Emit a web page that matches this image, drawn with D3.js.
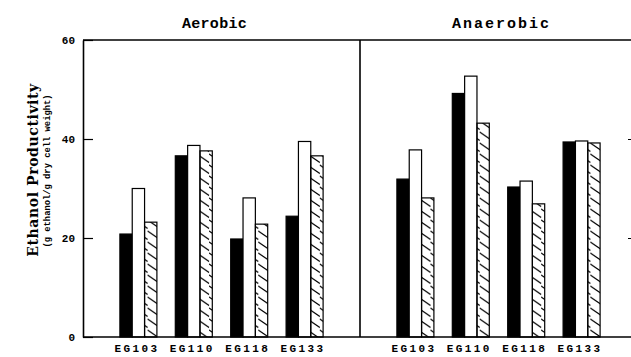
<!DOCTYPE html>
<html>
<head>
<meta charset="utf-8">
<script src="https://cdn.jsdelivr.net/npm/d3@7"></script>
<style>
  body { margin: 0; background: #fff; }
  text { font-family: "Liberation Mono", "DejaVu Sans Mono", monospace; font-weight: bold; fill: #000; }
  .serif { font-family: "DejaVu Serif", "Liberation Serif", serif; }
</style>
</head>
<body>
<svg width="631" height="357"></svg>
<script>
var strains = ["EG103", "EG110", "EG118", "EG133"];
var panels = ["Aerobic", "Anaerobic"];
var series = ["solid", "open", "hatched"];

var aerobicSolid = [20.8, 36.6, 19.8, 24.4];
var aerobicOpen = [30.0, 38.7, 28.1, 39.5];
var aerobicHatched = [23.2, 37.6, 22.8, 36.6];

var anaerobicSolid = [31.9, 49.2, 30.3, 39.4];
var anaerobicOpen = [37.8, 52.7, 31.5, 39.6];
var anaerobicHatched = [28.1, 43.2, 26.9, 39.2];

var yTicks = [0, 20, 40, 60];

var svg = d3.select("svg"),
    plotLeft = 83, plotTop = 40, plotBottom = 337, panelWidth = 277, plotRight = 631;

var y = d3.scaleLinear().domain([0, 60]).range([plotBottom, plotTop]);

var px = d3.scaleBand().domain(panels).range([plotLeft, plotLeft + 2 * panelWidth]);
var x = d3.scalePoint().domain(strains).range([0, panelWidth]).padding(1);
var xs = d3.scaleBand().domain(series).range([-18.5, 18.5]);

// hatch pattern
svg.append("defs").append("pattern")
    .attr("id", "hatch")
    .attr("patternUnits", "userSpaceOnUse")
    .attr("width", 12.3)
    .attr("height", 11)
  .append("path")
    .attr("d", "M-3,-2.1L15.3,10.6M-3,8.9L3,13.1")
    .attr("stroke", "#000")
    .attr("stroke-width", 1.1);

var data = [];
var values = {
  Aerobic: [aerobicSolid, aerobicOpen, aerobicHatched],
  Anaerobic: [anaerobicSolid, anaerobicOpen, anaerobicHatched]
};
panels.forEach(function(p) {
  series.forEach(function(s, si) {
    strains.forEach(function(st, i) {
      data.push({panel: p, series: s, strain: st, value: values[p][si][i]});
    });
  });
});

svg.selectAll(".bar")
  .data(data)
  .enter().append("rect")
    .attr("class", "bar")
    .attr("x", function(d) { return px(d.panel) + x(d.strain) + xs(d.series); })
    .attr("y", function(d) { return y(d.value); })
    .attr("width", xs.bandwidth())
    .attr("height", function(d) { return plotBottom - y(d.value); })
    .attr("fill", function(d) { return d.series == "solid" ? "#000" : d.series == "hatched" ? "url(#hatch)" : "#fff"; })
    .attr("stroke", "#000")
    .attr("stroke-width", 1.2);

// frame
svg.append("line").attr("x1", plotLeft).attr("x2", plotRight).attr("y1", plotTop).attr("y2", plotTop)
  .attr("stroke", "#000").attr("stroke-width", 1.6);
svg.append("line").attr("x1", plotLeft).attr("x2", plotRight).attr("y1", plotBottom).attr("y2", plotBottom)
  .attr("stroke", "#000").attr("stroke-width", 1.6);
svg.append("line").attr("x1", px("Anaerobic")).attr("x2", px("Anaerobic")).attr("y1", plotTop).attr("y2", plotBottom)
  .attr("stroke", "#000").attr("stroke-width", 1.6);

// left axis
var yAxis = svg.append("g")
    .attr("transform", "translate(" + plotLeft + ",0)")
    .call(d3.axisLeft(y).tickValues(yTicks).tickSize(-10).tickPadding(8).tickSizeOuter(0));
yAxis.select(".domain").attr("stroke-width", 1.6);
yAxis.selectAll(".tick line").attr("stroke-width", 1.2);
yAxis.selectAll(".tick text").style("font-size", "11px");

// right side tick marks
svg.append("g")
    .attr("transform", "translate(" + plotRight + ",0)")
    .call(d3.axisLeft(y).tickValues([20, 40]).tickSize(3).tickFormat(""))
  .select(".domain").remove();

// x axes and panel titles
panels.forEach(function(p) {
  var g = svg.append("g")
      .attr("transform", "translate(" + px(p) + "," + plotBottom + ")")
      .call(d3.axisBottom(x).tickSize(0).tickPadding(7));
  g.select(".domain").remove();
  g.selectAll(".tick text")
      .style("font-size", "11px")
      .style("letter-spacing", "2.4px")
      .attr("dx", "-2");

  svg.append("text")
      .attr("x", px(p) + panelWidth / 2 + (p == "Aerobic" ? -7 : 3))
      .attr("y", 28)
      .attr("text-anchor", "middle")
      .style("font-size", "15px")
      .style("letter-spacing", p == "Aerobic" ? "0.3px" : "2px")
      .text(p);
});

// y labels
svg.append("text")
    .attr("class", "serif")
    .attr("transform", "translate(38,170) rotate(-90)")
    .attr("text-anchor", "middle")
    .style("font-size", "14px")
    .style("letter-spacing", "0.6px")
    .text("Ethanol Productivity");
svg.append("text")
    .attr("transform", "translate(50,171) rotate(-90)")
    .attr("text-anchor", "middle")
    .style("font-size", "8.8px")
    .text("(g ethanol/g dry cell weight)");
</script>
</body>
</html>
